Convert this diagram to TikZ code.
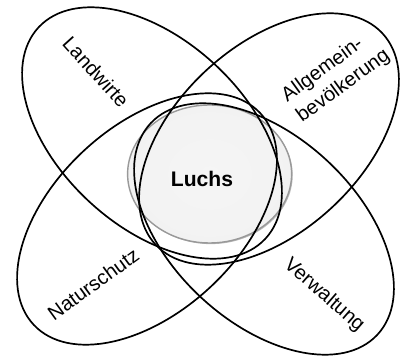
\documentclass[tikz,border=0pt]{standalone}
\usepackage{fontspec}
\setmainfont{Liberation Sans}
\usepackage{tikz}
\usetikzlibrary{shapes.geometric,shadows}

\tikzset{
  petal/.style={draw=black, line width=1.2pt},
  grouplabel/.style={font=\fontsize{14.3}{18}\selectfont, align=left, inner sep=0pt},
  core/.style={ellipse, draw=black!40, line width=1pt, inner color=black!4, outer color=black!5,
    minimum width=4.1cm, minimum height=3.45cm,
    drop shadow={shadow xshift=0.8pt, shadow yshift=-0.8pt, fill=black!55, opacity=0.5}}
}

\begin{document}
\begin{tikzpicture}
\def\ra{3.875}   % half length of a petal
\def\rb{2.325}   % half width of a petal
\useasboundingbox (0,0) rectangle (10,8.9);

% ---------- centre: the lynx ----------
\node[core] (luchs) at (5.24,4.55) {};

% ---------- four petals, one per group ----------
\foreach \cx/\cy/\ang in {3.8/5.575/-43, 6.725/5.425/43, 3.675/3.425/43, 6.6/3.175/-43}
  { \draw[petal, rotate around={\ang:(\cx,\cy)}] (\cx,\cy) ellipse (\ra cm and \rb cm); }

\node at (5.05,4.425) [font=\bfseries\fontsize{15}{18}\selectfont] (lname) {Luchs};

% ---------- group labels ----------
\node[grouplabel, rotate=-48] (bauern) at (2.4,7.1) {Landwirte};
\node[grouplabel, rotate=36] (bevoelk) at (8.4,7.0) {Allgemein-\\bevölkerung};
\node[grouplabel, rotate=36] (natur) at (2.33,1.8) {Naturschutz};
\node[grouplabel, rotate=-41] (verw) at (8.1,1.52) {Verwaltung};

\end{tikzpicture}
\end{document}
